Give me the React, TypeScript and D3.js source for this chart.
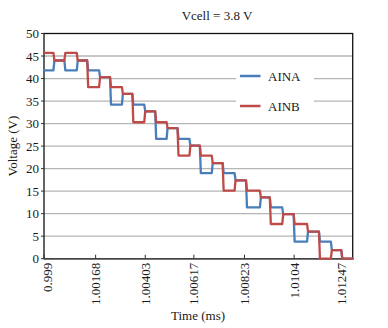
import React from "react";
import * as d3 from "d3";

const title = "Vcell = 3.8 V";
const xTitle = "Time (ms)";
const yTitle = "Voltage (V)";
// sample-index positions of the category tick labels
const tickIdx = [0, 104, 204, 302, 404, 504, 600];
const tickLabels = ["0.999", "1.00168", "1.00403", "1.00617", "1.00823", "1.0104", "1.01247"];
const yTicks = [0, 5, 10, 15, 20, 25, 30, 35, 40, 45, 50];
// segment boundaries (sample index)
const bounds = [0, 19, 41, 66, 87, 111, 133, 157, 178, 202, 224, 247, 269, 293, 314, 338, 360, 384, 407, 435, 455, 480, 503, 530, 554, 578, 599, 622];
const ainaValues = [41.8, 44.0, 41.8, 44.0, 41.8, 40.3, 34.2, 36.6, 34.2, 32.7, 26.6, 29.0, 26.6, 25.1, 19.0, 21.2, 19.0, 17.4, 11.4, 13.6, 11.4, 9.9, 3.8, 6.0, 3.8, 1.9, 0];
const ainbValues = [45.7, 44.0, 45.7, 44.0, 38.1, 40.3, 38.1, 36.6, 30.3, 32.7, 30.3, 29.0, 22.9, 25.1, 22.9, 21.2, 15.1, 17.4, 15.1, 13.6, 7.7, 9.9, 7.7, 6.0, 0, 1.9, 0];
const seriesNames = ["AINA", "AINB"];
const colors = ["#4a7ebb", "#be4b48"];

const FONT = "'Liberation Serif', 'Times New Roman', serif";

export default function App() {
  const W = 388, H = 328;
  const left = 44, right = 352.7, top = 33.5, bottom = 258.7;
  const x = d3.scaleLinear().domain([0, 622]).range([left, right]);
  const y = d3.scaleLinear().domain([0, 50]).range([bottom, top]);

  const buildPts = (vals: number[]) => {
    const pts: [number, number][] = [];
    vals.forEach((v, i) => {
      const s = i === 0 ? bounds[i] : bounds[i] + 2;
      pts.push([s, v]);
      pts.push([bounds[i + 1], v]);
    });
    return pts;
  };
  const line = d3
    .line<[number, number]>()
    .x((d) => x(d[0]))
    .y((d) => y(d[1]))
    .curve(d3.curveLinear);

  const series = [ainaValues, ainbValues];

  return (
    <svg width={W} height={H} style={{ position: "absolute", left: 0, top: 0, background: "#fff" }} fontFamily={FONT}>
      <rect x={0} y={0} width={W} height={H} fill="#fff" />
      {/* gridlines */}
      {yTicks.filter((t) => t > 0 && t < 50).map((t) => (
        <line key={t} x1={left} x2={right} y1={y(t)} y2={y(t)} stroke="#b5b5b5" strokeWidth={1.3} />
      ))}
      {/* legend background */}
      <rect x={236} y={58} width={78} height={62} fill="#fff" />
      {/* frame */}
      <rect x={left} y={top} width={right - left} height={bottom - top} fill="none" stroke="#111" strokeWidth={1.3} />
      <line x1={left} x2={right} y1={bottom} y2={bottom} stroke="#444" strokeWidth={1.5} />
      {/* y ticks */}
      {yTicks.map((t) => (
        <g key={t}>
          <line x1={left - 3} x2={left} y1={y(t)} y2={y(t)} stroke="#333" strokeWidth={1} />
          <text x={left - 5} y={y(t)} dy="0.35em" textAnchor="end" fontSize={13} fill="#1a1a1a">
            {t}
          </text>
        </g>
      ))}
      {/* x ticks */}
      {tickIdx.map((t, i) => (
        <g key={t}>
          <line x1={x(t)} x2={x(t)} y1={bottom - 4} y2={bottom} stroke="#333" strokeWidth={1} />
          <text
            transform={`translate(${x(t) + (i === 0 ? 3 : 0)},${bottom + 4}) rotate(-90)`}
            textAnchor="end"
            dy="0.35em"
            fontSize={13}
            fill="#1a1a1a"
          >
            {tickLabels[i]}
          </text>
        </g>
      ))}
      {/* series */}
      {series.map((vals, i) => (
        <path
          key={i}
          d={line(buildPts(vals)) || ""}
          fill="none"
          stroke={colors[i]}
          strokeWidth={2.3}
          strokeLinejoin="round"
          strokeLinecap="round"
        />
      ))}
      {/* legend */}
      {seriesNames.map((n, i) => (
        <g key={n}>
          <line x1={240} x2={260.5} y1={76 + i * 30} y2={76 + i * 30} stroke={colors[i]} strokeWidth={2.5} />
          <text x={268} y={81 + i * 30} fontSize={13} fill="#1a1a1a">
            {n}
          </text>
        </g>
      ))}
      {/* titles */}
      <text x={217} y={20} textAnchor="middle" fontSize={13} fill="#1a1a1a">
        {title}
      </text>
      <text x={198} y={320} textAnchor="middle" fontSize={13} fill="#1a1a1a">
        {xTitle}
      </text>
      <text transform={`translate(17,${(top + bottom) / 2}) rotate(-90)`} textAnchor="middle" fontSize={13} fill="#1a1a1a">
        {yTitle}
      </text>
    </svg>
  );
}
